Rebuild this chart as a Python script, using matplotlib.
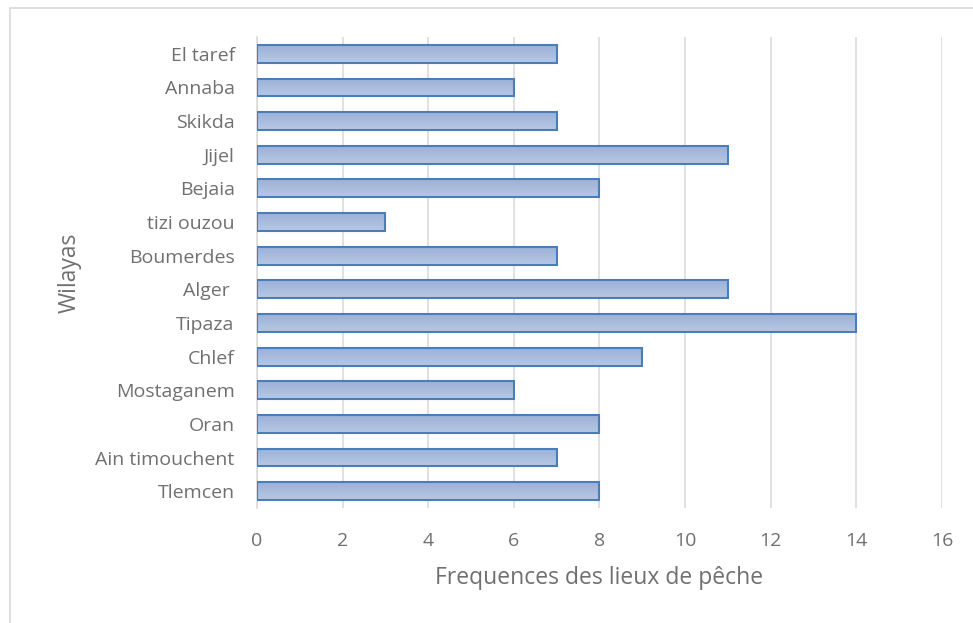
import numpy as np
import matplotlib
matplotlib.use('Agg')
import matplotlib.pyplot as plt
from matplotlib.patches import Rectangle

# Wilayas listed bottom to top as they appear on the chart
wilayas = ["Tlemcen", "Ain timouchent", "Oran", "Mostaganem", "Chlef", "Tipaza",
           "Alger ", "Boumerdes", "tizi ouzou", "Bejaia", "Jijel", "Skikda",
           "Annaba", "El taref"]
frequences = [8, 7, 8, 6, 9, 14, 11, 7, 3, 8, 11, 7, 6, 7]
xticks = [0, 2, 4, 6, 8, 10, 12, 14, 16]

plt.rcParams['font.family'] = ['Open Sans', 'DejaVu Sans']
TXT = "#707070"

fig = plt.figure(figsize=(9.73, 6.23), dpi=100)
ax = fig.add_axes([0.2641, 0.1846, 0.704, 0.756])

y = np.arange(len(wilayas))
bars = ax.barh(y, frequences, height=0.53, color="#a9bcdf",
               edgecolor="#4a7ebb", linewidth=1.5, zorder=3)

# vertical gradient inside each bar (lighter on top)
grad = np.linspace(0, 1, 64).reshape(-1, 1)
cmap = matplotlib.colors.LinearSegmentedColormap.from_list(
    "bar", ["#b8c8e4", "#9cb1d7"])
for b in bars:
    x0, y0, w, h = b.get_x(), b.get_y(), b.get_width(), b.get_height()
    im = ax.imshow(grad, extent=(x0, x0 + w, y0 + h, y0), cmap=cmap,
                   aspect="auto", zorder=2.5, interpolation="bilinear")
    im.set_clip_path(b)
    b.set_facecolor("none")

ax.set_xlim(0, 16)
ax.set_ylim(-0.5, len(wilayas) - 0.5)
ax.set_xticks(xticks)
ax.set_yticks(y)
ax.set_yticklabels(wilayas)
ax.grid(axis="x", color="#d9d9d9", linewidth=1.1, zorder=0)
ax.tick_params(length=0, colors=TXT, labelsize=14)
ax.tick_params(axis="y", pad=16)
ax.tick_params(axis="x", pad=17)
for s in ["top", "right", "bottom"]:
    ax.spines[s].set_visible(False)
ax.spines["left"].set_color("#d9d9d9")
ax.spines["left"].set_linewidth(1.1)

ax.set_xlabel("Frequences des lieux de pêche", fontsize=16.5, color=TXT, labelpad=12)
ax.set_ylabel("Wilayas", fontsize=16.5, color=TXT, labelpad=10)

# outer chart frame
fig.patches.append(Rectangle((9.5 / 973, -0.1), 1.2, 0.1 + (623 - 7.5) / 623,
                             transform=fig.transFigure, fill=False,
                             edgecolor="#d9d9d9", linewidth=1.2))

fig.savefig("out.png", dpi=100, facecolor="white")
